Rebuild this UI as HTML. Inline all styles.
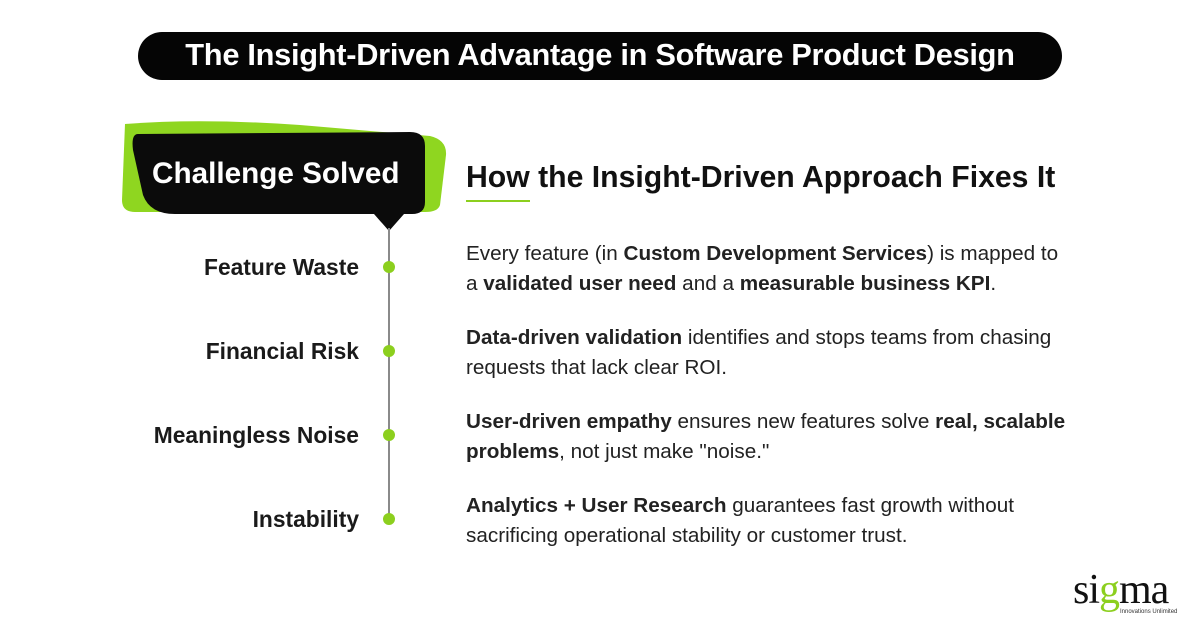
<!DOCTYPE html>
<html><head><meta charset="utf-8"><style>
body{margin:0;width:1200px;height:627px;background:#fff;position:relative;overflow:hidden;font-family:"Liberation Sans",sans-serif;color:#1a1a1a}
.a{position:absolute}
.pill{left:138px;top:32px;width:924px;height:48px;background:#050505;border-radius:24px;color:#fff;font-weight:bold;font-size:30.8px;text-align:center;line-height:46px;letter-spacing:-0.3px}
.lab{right:841px;font-weight:bold;font-size:22.8px;text-align:right;white-space:nowrap}
.dot{left:383px;width:12px;height:12px;border-radius:50%;background:#8ccf1e}
.t{left:466px;font-size:20.7px;line-height:30px;white-space:nowrap;color:#222}
</style></head><body>
<div class="a pill">The Insight-Driven Advantage in Software Product Design</div>
<svg class="a" style="left:0;top:0" width="1200" height="627">
<path d="M125 124 Q200 118 300 125 L430 136 Q447 140 446 155 L440 205 Q438 212 425 212 L135 212 Q122 212 122 200 Z" fill="#8fd620"/>
<path d="M138 134 L410 132 Q425 132 425 146 L425 202 Q425 214 412 214 L404 214 L389 231 L374 214 L175 214 Q150 214 143 195 L133 150 Q131 134 138 134 Z" fill="#0b0b0b"/>
<line x1="389" y1="228" x2="389" y2="520" stroke="#8a8a8a" stroke-width="2"/>
<line x1="466" y1="201" x2="530" y2="201" stroke="#8ccf1e" stroke-width="2"/>
</svg>
<div class="a" style="left:152px;top:157px;color:#fff;font-weight:bold;font-size:29.7px;white-space:nowrap">Challenge Solved</div>
<div class="a" style="left:466px;top:161px;font-weight:bold;font-size:30.2px;white-space:nowrap;color:#111">How the Insight-Driven Approach Fixes It</div>
<div class="a lab" style="top:254px">Feature Waste</div>
<div class="a lab" style="top:338px">Financial Risk</div>
<div class="a lab" style="top:422px">Meaningless Noise</div>
<div class="a lab" style="top:506px">Instability</div>
<div class="a dot" style="top:261px"></div>
<div class="a dot" style="top:345px"></div>
<div class="a dot" style="top:429px"></div>
<div class="a dot" style="top:513px"></div>
<div class="a t" style="top:239px">Every feature (in <b>Custom Development Services</b>) is mapped to<br>a <b>validated user need</b> and a <b>measurable business KPI</b>.</div>
<div class="a t" style="top:323px"><b>Data-driven validation</b> identifies and stops teams from chasing<br>requests that lack clear ROI.</div>
<div class="a t" style="top:407px"><b>User-driven empathy</b> ensures new features solve <b>real, scalable</b><br><b>problems</b>, not just make "noise."</div>
<div class="a t" style="top:491px"><b>Analytics + User Research</b> guarantees fast growth without<br>sacrificing operational stability or customer trust.</div>
<div class="a" style="left:1073px;top:570px;font-family:'Liberation Serif',serif;font-size:42px;line-height:40px;color:#111;letter-spacing:-1px">si<span style="color:#8ccf1e">g</span>ma</div>
<div class="a" style="left:1120px;top:609px;font-size:6px;color:#333">Innovations Unlimited</div>
</body></html>
